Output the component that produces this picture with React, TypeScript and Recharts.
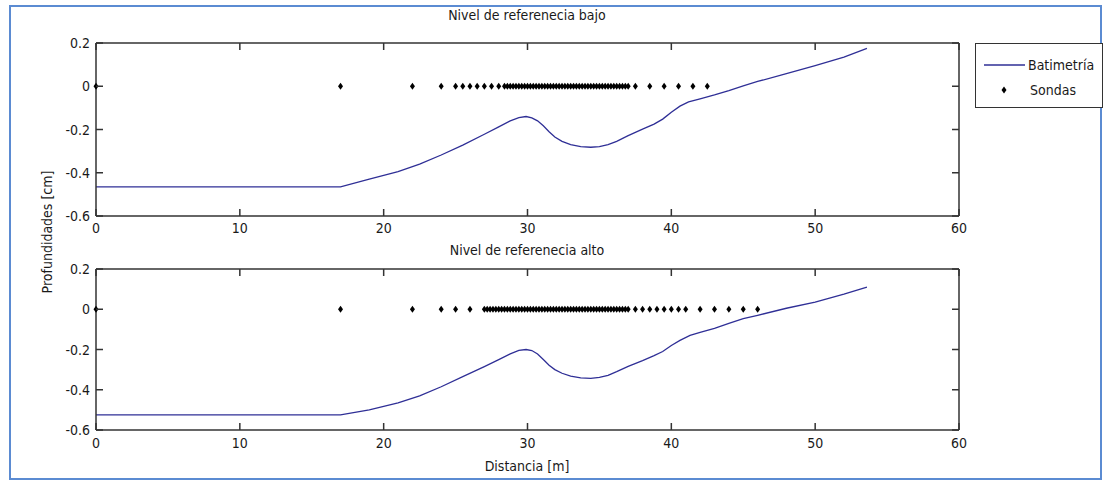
import { ComposedChart, Line, Scatter, XAxis, YAxis } from "recharts";

const xTicks = [0, 10, 20, 30, 40, 50, 60];
const yTicks = [-0.6, -0.4, -0.2, 0, 0.2];

// Nivel de referenecia bajo
const bajoDist = [0, 17, 19, 21, 22.5, 24, 25.5, 27, 28, 28.8, 29.4, 29.9, 30.3, 30.7, 31.1, 31.5, 31.9, 32.4, 33, 33.7, 34.4, 35, 35.6, 36.2, 37, 38, 38.8, 39.4, 40, 40.6, 41.2, 42, 43, 44, 45, 46, 48, 50, 52, 53.6];
const bajoDepth = [-0.465, -0.465, -0.43, -0.395, -0.36, -0.318, -0.272, -0.222, -0.188, -0.16, -0.145, -0.14, -0.146, -0.16, -0.183, -0.21, -0.235, -0.255, -0.27, -0.279, -0.282, -0.279, -0.27, -0.255, -0.228, -0.198, -0.175, -0.152, -0.12, -0.092, -0.072, -0.058, -0.04, -0.02, 0.002, 0.022, 0.058, 0.095, 0.135, 0.175];
const bajoSondas = [0, 17, 22, 24, 25, 25.5, 26, 26.5, 27, 27.5, 28, 28.4, 28.6, 28.8, 29, 29.2, 29.4, 29.6, 29.8, 30, 30.2, 30.4, 30.6, 30.8, 31, 31.2, 31.4, 31.6, 31.8, 32, 32.2, 32.4, 32.6, 32.8, 33, 33.2, 33.4, 33.6, 33.8, 34, 34.2, 34.4, 34.6, 34.8, 35, 35.2, 35.4, 35.6, 35.8, 36, 36.2, 36.4, 36.6, 36.8, 37, 37.5, 38.5, 39.5, 40.5, 41.5, 42.5];

// Nivel de referenecia alto
const altoDist = [0, 17, 19, 21, 22.5, 24, 25.5, 27, 28, 28.8, 29.4, 29.9, 30.3, 30.7, 31.1, 31.5, 31.9, 32.4, 33, 33.7, 34.4, 35, 35.6, 36.2, 37, 38, 38.8, 39.4, 40, 40.6, 41.3, 42, 43, 44, 45, 46, 48, 50, 51, 52, 53.6];
const altoDepth = [-0.525, -0.525, -0.5, -0.465, -0.43, -0.385, -0.335, -0.285, -0.25, -0.222, -0.204, -0.2, -0.205, -0.222, -0.25, -0.278, -0.3, -0.318, -0.332, -0.341, -0.343, -0.338, -0.328, -0.31, -0.284, -0.255, -0.23, -0.21, -0.18, -0.155, -0.13, -0.115, -0.095, -0.07, -0.047, -0.03, 0.005, 0.035, 0.055, 0.075, 0.11];
const altoSondas = [0, 17, 22, 24, 25, 26, 27, 27.2, 27.4, 27.6, 27.8, 28, 28.2, 28.4, 28.6, 28.8, 29, 29.2, 29.4, 29.6, 29.8, 30, 30.2, 30.4, 30.6, 30.8, 31, 31.2, 31.4, 31.6, 31.8, 32, 32.2, 32.4, 32.6, 32.8, 33, 33.2, 33.4, 33.6, 33.8, 34, 34.2, 34.4, 34.6, 34.8, 35, 35.2, 35.4, 35.6, 35.8, 36, 36.2, 36.4, 36.6, 36.8, 37, 37.5, 38, 38.5, 39, 39.5, 40, 40.5, 41, 42, 43, 44, 45, 46];

const FONT = "'Liberation Sans Narrow', 'DejaVu Sans Condensed', sans-serif";
const AXIS = "#333";
const TEXT = "#1a1a1a";
const LINE = "#2f2f96";
const PLOT_W = 863;
const TICK_LEN = 7;

const Diamond = (props: any) => {
  const { cx, cy } = props;
  if (cx == null || cy == null) return null;
  return <path d={`M${cx},${cy - 3.5}L${cx + 2.5},${cy}L${cx},${cy + 3.5}L${cx - 2.5},${cy}Z`} fill="#000" />;
};

// matlab style: label outside, tick marks inside on both sides of the box
const makeXTick = (gap: number, plotH: number) => (props: any) => {
  const { x, y, payload } = props;
  const base = Number(y) - gap;
  const px = Number(x);
  return (
    <g>
      <path d={`M${px},${base}V${base - TICK_LEN}M${px},${base - plotH}V${base - plotH + TICK_LEN}`}
        style={{ stroke: AXIS, strokeWidth: 1.5, fill: "none" }} />
      <text x={px} y={y} dy="0.8em" textAnchor="middle" fill={TEXT} fontSize={14} fontFamily={FONT}>{payload.value}</text>
    </g>
  );
};

const makeYTick = (gap: number) => (props: any) => {
  const { x, y, payload } = props;
  const base = Number(x) + gap;
  const py = Number(y);
  return (
    <g>
      <path d={`M${base},${py}H${base + TICK_LEN}M${base + PLOT_W},${py}H${base + PLOT_W - TICK_LEN}`}
        style={{ stroke: AXIS, strokeWidth: 1.5, fill: "none" }} />
      <text x={x} y={y} dy="0.36em" textAnchor="end" fill={TEXT} fontSize={14} fontFamily={FONT}>{payload.value}</text>
    </g>
  );
};

function Panel({ dist, depth, sondas, height, margin, labelGap }: any) {
  const lineData = dist.map((x: number, i: number) => ({ x, y: depth[i] }));
  const dotData = sondas.map((x: number) => ({ x, y: 0 }));
  const axisLine = { stroke: AXIS, strokeWidth: 1.5 };
  const plotH = height - margin.top - margin.bottom - 20;
  return (
    <ComposedChart width={1108} height={height} margin={margin}>
      <XAxis xAxisId="x" type="number" dataKey="x" domain={[0, 60]} ticks={xTicks} height={20}
        tickSize={0} tickMargin={labelGap} tickLine={false} axisLine={axisLine}
        tick={makeXTick(labelGap, plotH)} interval={0} />
      <XAxis xAxisId="xt" orientation="top" type="number" mirror domain={[0, 60]} ticks={xTicks} allowDataOverflow
        tick={false} tickLine={false} axisLine={axisLine} />
      <YAxis yAxisId="y" type="number" domain={[-0.6, 0.2]} ticks={yTicks} width={40}
        tickSize={0} tickMargin={6} tickLine={false} axisLine={axisLine}
        tick={makeYTick(6)} interval={0} />
      <YAxis yAxisId="yr" orientation="right" type="number" mirror domain={[-0.6, 0.2]} ticks={yTicks} allowDataOverflow
        tick={false} tickLine={false} axisLine={axisLine} />
      <Line xAxisId="x" yAxisId="y" data={lineData} dataKey="y" type="linear" stroke={LINE}
        strokeWidth={1.3} dot={false} isAnimationActive={false} />
      <Scatter xAxisId="x" yAxisId="y" data={dotData} dataKey="y" shape={<Diamond />} isAnimationActive={false} />
    </ComposedChart>
  );
}

const textStyle = { position: "absolute" as const, fontFamily: FONT, fontSize: 14, color: TEXT, whiteSpace: "nowrap" as const };

export default function App() {
  return (
    <div style={{ position: "absolute", left: 0, top: 0, width: 1108, height: 480, background: "#fff", overflow: "hidden" }}>
      <div style={{ position: "absolute", left: 9, top: 5, width: 1093, height: 475, border: "2px solid #5b8bd2", boxSizing: "border-box" }} />
      <div style={{ position: "absolute", left: 0, top: 0 }}>
        <Panel dist={bajoDist} depth={bajoDepth} sondas={bajoSondas} height={240}
          margin={{ top: 43, right: 149, bottom: 4, left: 56 }} labelGap={6} />
      </div>
      <div style={{ position: "absolute", left: 0, top: 240 }}>
        <Panel dist={altoDist} depth={altoDepth} sondas={altoSondas} height={240}
          margin={{ top: 29, right: 149, bottom: 30, left: 56 }} labelGap={7} />
      </div>
      <div style={{ ...textStyle, left: 527, top: 15, transform: "translate(-50%, -50%)" }}>Nivel de referenecia bajo</div>
      <div style={{ ...textStyle, left: 527, top: 250, transform: "translate(-50%, -50%)" }}>Nivel de referenecia alto</div>
      <div style={{ ...textStyle, left: 527, top: 466, transform: "translate(-50%, -50%)" }}>Distancia [m]</div>
      <div style={{ ...textStyle, left: 47, top: 232, transform: "translate(-50%, -50%) rotate(-90deg)" }}>Profundidades [cm]</div>
      <div style={{ position: "absolute", left: 975, top: 43, width: 128, height: 65, border: "1.5px solid #333", boxSizing: "border-box", background: "#fff" }}>
        <svg width={125} height={62} style={{ position: "absolute", left: 0, top: 0 }}>
          <line x1={8} y1={21} x2={49} y2={21} stroke={LINE} strokeWidth={1.3} />
          <path d="M28,42.5L30.5,46L28,49.5L25.5,46Z" fill="#000" />
        </svg>
        <div style={{ ...textStyle, left: 52, top: 21, transform: "translateY(-50%)" }}>Batimetría</div>
        <div style={{ ...textStyle, left: 54, top: 46, transform: "translateY(-50%)" }}>Sondas</div>
      </div>
    </div>
  );
}
